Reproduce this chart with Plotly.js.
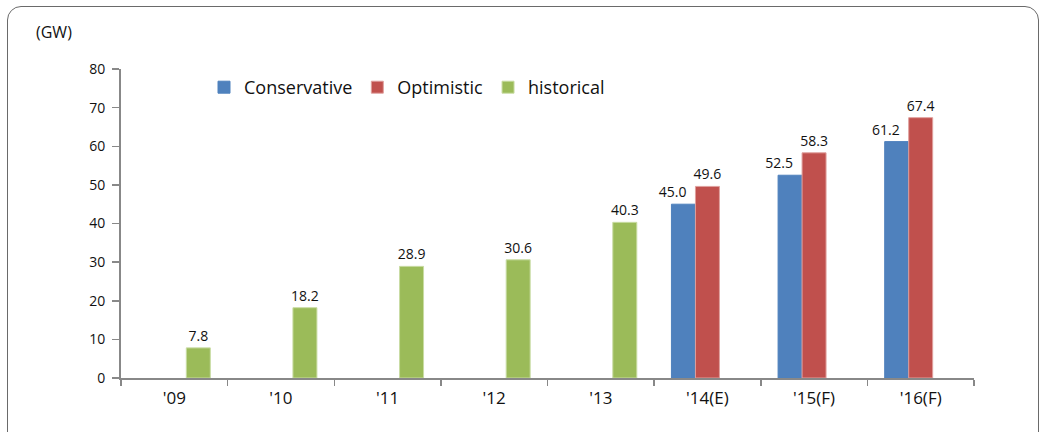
<!DOCTYPE html>
<html>
<head>
<meta charset="utf-8">
<script src="https://cdn.plot.ly/plotly-3.0.1.min.js"></script>
<style>
  html, body { margin: 0; padding: 0; background: #fff; overflow: hidden; }
  #wrap { position: relative; width: 1044px; height: 432px; }
  #chart { width: 1044px; height: 432px; }
  #frame {
    position: absolute; left: 7px; top: 6px; width: 1032px; height: 440px;
    border: 1.5px solid #6a6a6a; border-radius: 14px; pointer-events: none;
    box-sizing: border-box;
  }
</style>
</head>
<body>
<div id="wrap">
  <div id="chart"></div>
  <div id="frame"></div>
</div>
<script>
// Solar capacity additions by year (GW)
const years = ["'09", "'10", "'11", "'12", "'13", "'14(E)", "'15(F)", "'16(F)"];
const conservative = [null, null, null, null, null, 45.0, 52.5, 61.2];
const optimistic   = [null, null, null, null, null, 49.6, 58.3, 67.4];
const historical   = [7.8, 18.2, 28.9, 30.6, 40.3, null, null, null];

const FONT = "Open Sans";
const NB = "\u00a0";

function barTrace(name, values, color, edge, labelSuffix) {
  return {
    type: 'bar',
    name: name,
    x: years,
    y: values,
    marker: { color: color, line: { color: edge, width: 1 } },
    texttemplate: values.map(v => v == null ? '' : v.toFixed(1) + labelSuffix),
    textposition: 'outside',
    constraintext: 'none',
    cliponaxis: false,
    textfont: { family: FONT, size: 14, color: '#111' },
    hoverinfo: 'x+y'
  };
}

const data = [
  barTrace('Conservative', conservative, '#4F81BD', '#4F81BD', NB.repeat(6)),
  barTrace('Optimistic', optimistic, '#C0504D', '#E0A09E', ''),
  barTrace('historical', historical, '#9BBB59', '#C9DCA3', '')
];

const layout = {
  width: 1044,
  height: 432,
  margin: { l: 121, r: 70, t: 69, b: 54, pad: 0 },
  paper_bgcolor: '#fff',
  plot_bgcolor: '#fff',
  barmode: 'group',
  bargap: 0.325,
  bargroupgap: 0,
  font: { family: FONT, size: 14, color: '#111' },
  title: {
    text: '(GW)',
    xref: 'container', yref: 'container',
    x: 36 / 1044, xanchor: 'left',
    y: 1 - 32 / 432, yanchor: 'middle',
    font: { family: FONT, size: 16, color: '#111' }
  },
  showlegend: true,
  legend: {
    orientation: 'h',
    x: (204 - 121) / 853, xanchor: 'left',
    y: 1.0, yanchor: 'top',
    font: { family: FONT, size: 18, color: '#111' },
    bgcolor: 'rgba(0,0,0,0)',
    traceorder: 'normal',
    itemclick: false
  },
  xaxis: {
    type: 'category',
    showline: true, linecolor: '#888', linewidth: 2,
    ticks: 'outside', tickson: 'boundaries', ticklen: 6, tickwidth: 1.5, tickcolor: '#888',
    showgrid: false, zeroline: false,
    tickfont: { family: FONT, size: 17, color: '#111' },
    ticklabelstandoff: 4
  },
  yaxis: {
    range: [0, 80], dtick: 10, tick0: 0,
    showline: true, linecolor: '#888', linewidth: 2,
    ticks: 'outside', ticklen: 7, tickwidth: 1.5, tickcolor: '#888',
    showgrid: false, zeroline: false,
    tickfont: { family: FONT, size: 14, color: '#111' },
    ticklabelstandoff: 4
  }
};

Plotly.newPlot('chart', data, layout, { displayModeBar: false, staticPlot: true });
</script>
</body>
</html>
